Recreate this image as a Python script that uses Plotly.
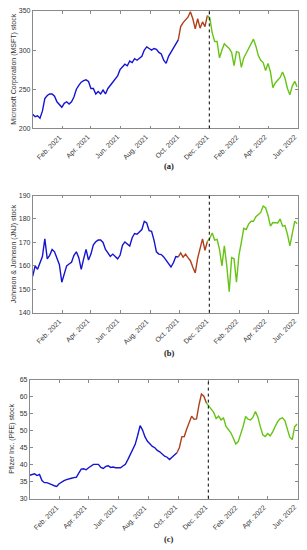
import pandas as pd
import plotly.graph_objects as go

start_date = "2020-12-02"
n_points = 110
dates = pd.date_range(start_date, periods=n_points, freq="5D")

msft = [218, 215, 216, 213, 222, 238, 242, 244, 244, 241,
        234, 231, 227, 232, 234, 231, 234, 240, 250, 255,
        259, 261, 262, 260, 251, 251, 244, 247, 244, 249,
        244, 251, 255, 259, 264, 267, 275, 279, 282, 280,
        286, 284, 289, 287, 290, 292, 300, 304, 302, 300,
        302, 301, 297, 295, 287, 283, 292, 297, 302, 308,
        313, 330, 335, 339, 342, 349, 340, 327, 340, 328,
        336, 330, 344, 341, 322, 311, 311, 290, 300, 308,
        305, 302, 297, 280, 298, 297, 278, 290, 296, 302,
        310, 314, 305, 293, 287, 284, 274, 283, 272, 252,
        258, 261, 265, 272, 264, 251, 243, 254, 260, 253]

jnj = [155.5, 160, 158.5, 161.5, 164, 171.5, 163, 164.5, 167, 166,
       163.6, 160.5, 153, 157, 160, 160.8, 161.5, 164.5, 166, 163.5,
       158.5, 163, 167, 162.5, 165, 169, 170.3, 171, 171, 170,
       167, 165.5, 164, 165, 164, 163, 164.5, 168.8, 170.2, 169.2,
       168.5, 172, 173.8, 173.5, 174.4, 175.5, 179, 178.3, 175, 174.7,
       171, 166, 165, 164.8, 163.8, 162.2, 161, 159.5, 161.3, 164,
       163.8, 165.5, 163.7, 165, 163.5, 162.2, 159.4, 157, 163.3, 168,
       171.5, 166.6, 170.4, 171.8, 174, 171, 171.3, 167, 160, 168.5,
       160, 149, 163.5, 163, 153, 164.5, 170, 176, 175.5, 177.8,
       179, 179, 181, 181.8, 182.8, 185.5, 184.8, 181.5, 177, 178.5,
       178.4, 178.3, 180, 176.9, 177.2, 173.5, 168.5, 173.8, 179, 178]

pfe = [36.9, 37, 37.3, 36.8, 37.1, 35.3, 34.7, 34.7, 34.5, 34.1,
       33.8, 33.6, 34.4, 34.9, 35.3, 35.6, 35.9, 36, 36.2, 36.3,
       37.5, 38.7, 38.8, 38.5, 39.1, 39.6, 40.1, 40.1, 40.1, 39.2,
       38.9, 39.5, 39.7, 39.2, 39.3, 39.1, 39.1, 39.1, 39.6, 40.1,
       41.5, 42.9, 44.4, 46, 48.6, 51.5, 50.2, 48.2, 46.9, 46.1,
       45.4, 45, 44.2, 43.8, 43, 42.5, 42.2, 41.5, 42.2, 42.8,
       43.5, 45, 48.2, 48.3, 50.5, 52.6, 54.3, 53.4, 53.5, 57.6,
       60.8, 60.2, 58.2, 57.2, 56.5, 55.4, 53.6, 54.3, 53.2, 53.8,
       51.3, 50.3, 49.4, 47.8, 46.1, 46.8, 49, 51.3, 54.2, 53.4,
       53.2, 54, 55.7, 54, 51.2, 48.8, 48.3, 49.2, 48.5, 49.6,
       51.2, 52.6, 53.5, 53.8, 53, 50.8, 48.1, 47.4, 51.2, 52]

val_start = "2021-10-01"   # blue -> red
test_start = "2021-12-01"  # red -> green, dashed line
x_range = ["2020-12-02", "2022-06-01 04:00"]
tick_dates = pd.date_range("2021-02-01", "2022-06-01", freq="2MS")
tick_labels = [d.strftime("%b. %Y") for d in tick_dates]

y_titles = ["Microsoft Corporation (MSFT) stock",
            "Johnson & Johnson (JNJ) stock",
            "Pfizer Inc. (PFE) stock"]
y_ranges = [[200, 350], [140, 190], [30, 65]]
y_dticks = [50, 10, 5]
panel_labels = ["(a)", "(b)", "(c)"]
series = [msft, jnj, pfe]

# ---- layout geometry (pixels) ----
W, H = 307, 550
panels_px = [  # left, right, top, bottom
    (32.7, 297.7, 7, 126),
    (32.7, 297.7, 194, 312.7),
    (29.7, 297.7, 380.7, 501),
]
label_y_px = [164, 353, 541.5]
title_x_px = [14, 14, 12.5]

BLUE = "#1414d2"
RED = "#b0401c"
GREEN = "#66c414"
TXT = "#333333"
AX = "#8a8a8a"

fig = go.Figure()
i_val = int(dates.searchsorted(pd.Timestamp(val_start)))
i_test = int(dates.searchsorted(pd.Timestamp(test_start)))

for k, vals in enumerate(series):
    xa = "x" if k == 0 else f"x{k+1}"
    ya = "y" if k == 0 else f"y{k+1}"
    segs = [(0, i_val, BLUE), (i_val - 1, i_test, RED), (i_test - 1, n_points, GREEN)]
    for a, b, c in segs:
        fig.add_trace(go.Scatter(x=dates[a:b], y=vals[a:b], mode="lines",
                                 line=dict(color=c, width=1.4),
                                 xaxis=xa, yaxis=ya, showlegend=False))
    l, r, t, btm = panels_px[k]
    axis_common = dict(showline=True, linecolor=AX, linewidth=0.7,
                       mirror="ticks", ticks="inside", ticklen=3,
                       tickcolor=AX, tickwidth=0.7, showgrid=False,
                       zeroline=False,
                       tickfont=dict(family="Liberation Sans", size=7, color=TXT))
    fig.layout[("xaxis" if k == 0 else f"xaxis{k+1}")] = dict(
        domain=[l / W, r / W], anchor=ya, range=x_range, type="date",
        tickvals=list(tick_dates), showticklabels=False, **axis_common)
    fig.layout[("yaxis" if k == 0 else f"yaxis{k+1}")] = dict(
        domain=[1 - btm / H, 1 - t / H], anchor=xa, range=y_ranges[k],
        dtick=y_dticks[k], **axis_common)
    # rotated x tick labels, ending at the tick
    for d, lab in zip(tick_dates, tick_labels):
        fig.add_annotation(text=lab, textangle=-45, showarrow=False,
                           xref=xa, yref=f"{ya} domain", x=d, y=0,
                           xanchor="right", yanchor="top", xshift=3, yshift=-2,
                           font=dict(family="Liberation Sans", size=7, color=TXT))
    fig.add_shape(type="line", xref=xa, yref=f"{ya} domain",
                  x0=test_start, x1=test_start, y0=0, y1=1,
                  line=dict(color="black", width=1, dash="dot"))
    fig.add_annotation(text=y_titles[k], textangle=-90, showarrow=False,
                       xref="paper", yref="paper", x=title_x_px[k] / W,
                       y=1 - (t + btm) / 2 / H, xanchor="center", yanchor="middle",
                       font=dict(family="Liberation Sans", size=7, color=TXT))
    fig.add_annotation(text="<b>" + panel_labels[k] + "</b>", showarrow=False,
                       xref="paper", yref="paper", x=169 / W, y=1 - label_y_px[k] / H,
                       xanchor="center", yanchor="middle",
                       font=dict(family="Liberation Serif", size=8.5, color="#222222"))

fig.update_layout(width=W, height=H, margin=dict(l=0, r=0, t=0, b=0),
                  paper_bgcolor="white", plot_bgcolor="white")
fig.write_html("out.html", config={"displayModeBar": False},
               post_script="document.body.style.margin='0px';"
                           "document.body.style.overflow='hidden';")
